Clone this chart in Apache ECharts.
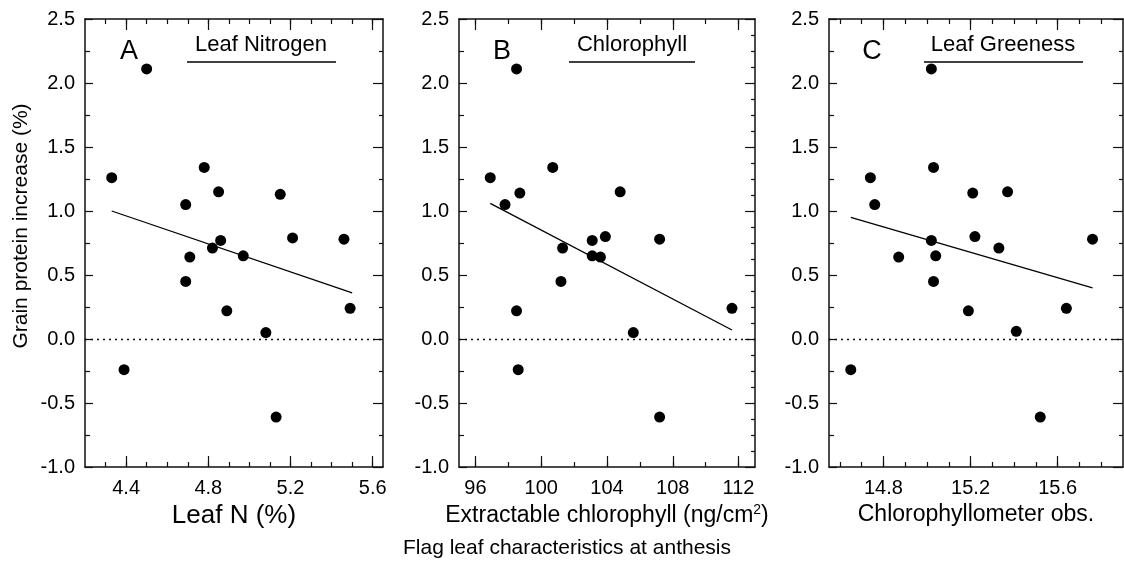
<!DOCTYPE html>
<html>
<head>
<meta charset="UTF-8">
<title>Grain protein increase</title>
<script src="https://cdn.jsdelivr.net/npm/echarts@6/dist/echarts.min.js"></script>
<style>
  html, body { margin: 0; padding: 0; background: #fff; }
  #main { width: 1124px; height: 566px; }
</style>
</head>
<body>
<div id="main"></div>
<script>
// panel A: leaf N (%)
var leafN    = [4.33, 4.50, 4.78, 4.85, 4.69, 5.15, 5.21, 5.46, 4.86, 4.82, 4.97, 4.71, 4.69, 4.89, 5.49, 5.08, 4.39, 5.13];
var proteinA = [1.26, 2.11, 1.34, 1.15, 1.05, 1.13, 0.79, 0.78, 0.77, 0.71, 0.65, 0.64, 0.45, 0.22, 0.24, 0.05, -0.24, -0.61];
var fitAx = [4.33, 5.50];
var fitAy = [1.00, 0.36];

// panel B: extractable chlorophyll (ng/cm2)
var chloro   = [96.9, 98.5, 100.7, 104.8, 97.8, 98.7, 107.2, 103.9, 103.1, 103.1, 103.6, 101.3, 101.2, 98.5, 111.6, 105.6, 98.6, 107.2];
var proteinB = [1.26, 2.11, 1.34, 1.15, 1.05, 1.14, 0.78, 0.80, 0.77, 0.65, 0.64, 0.71, 0.45, 0.22, 0.24, 0.05, -0.24, -0.61];
var fitBx = [96.9, 111.6];
var fitBy = [1.06, 0.07];

// panel C: chlorophyllometer
var meter    = [14.74, 15.02, 15.03, 14.76, 15.21, 15.37, 15.76, 15.22, 15.02, 15.33, 14.87, 15.04, 15.03, 15.19, 15.64, 15.41, 14.65, 15.52];
var proteinC = [1.26, 2.11, 1.34, 1.05, 1.14, 1.15, 0.78, 0.80, 0.77, 0.71, 0.64, 0.65, 0.45, 0.22, 0.24, 0.06, -0.24, -0.61];
var fitCx = [14.65, 15.76];
var fitCy = [0.95, 0.40];

// x ticks / labels
var majorA = [4.4, 4.8, 5.2, 5.6];
var minorA = [4.3, 4.4, 4.5, 4.6, 4.7, 4.8, 4.9, 5.0, 5.1, 5.2, 5.3, 5.4, 5.5, 5.6];
var majorB = [96, 100, 104, 108, 112];
var minorB = [96, 98, 100, 102, 104, 106, 108, 110, 112];
var majorC = [14.8, 15.2, 15.6];
var minorC = [14.6, 14.7, 14.8, 14.9, 15.0, 15.1, 15.2, 15.3, 15.4, 15.5, 15.6, 15.7, 15.8];

var FONT = '"Liberation Sans", Arial, Helvetica, sans-serif';

function pairs(xs, ys) {
    var out = [];
    for (var i = 0; i < xs.length; i++) out.push([xs[i], ys[i]]);
    return out;
}

var panels = [
    { xs: leafN, ys: proteinA, fx: fitAx, fy: fitAy, min: 4.2, max: 5.65, major: majorA, minor: minorA,
      left: 85, width: 298, dec: 1, rightMinor: 2,
      name: 'Leaf N (%)', nameSize: 26, nameGap: 30 },
    { xs: chloro, ys: proteinB, fx: fitBx, fy: fitBy, min: 95, max: 113, major: majorB, minor: minorB,
      left: 459, width: 296, dec: 0, rightMinor: 4,
      name: '{a|Extractable chlorophyll (ng/cm}{s|2}{a|)}', nameSize: 23, nameGap: 34 },
    { xs: meter, ys: proteinC, fx: fitCx, fy: fitCy, min: 14.55, max: 15.9, major: majorC, minor: minorC,
      left: 829, width: 294, dec: 1, rightMinor: 2,
      name: 'Chlorophyllometer obs.', nameSize: 23, nameGap: 31 }
];

var grids = [], xAxes = [], yAxes = [], series = [];
var axisLine = { show: true, onZero: false, lineStyle: { color: '#111', width: 1.5 } };
var tickStyle = { color: '#111', width: 1.2 };

panels.forEach(function (p, i) {
    grids.push({ left: p.left, top: 19, width: p.width, height: 448, containLabel: false });
    var base = { type: 'value', gridIndex: i, min: p.min, max: p.max, splitLine: { show: false } };
    // bottom, minor ticks + labels + name
    xAxes.push(Object.assign({}, base, {
        position: 'bottom',
        axisLine: axisLine,
        axisTick: { show: true, inside: true, length: 5, customValues: p.minor, lineStyle: tickStyle },
        axisLabel: { show: true, customValues: p.major, margin: 11, color: '#000', fontFamily: FONT, fontSize: 20,
            formatter: function (v) { return v.toFixed(p.dec); } },
        name: p.name, nameLocation: 'middle', nameGap: p.nameGap,
        nameTextStyle: { color: '#000', fontFamily: FONT, fontSize: p.nameSize,
            rich: { a: { fontFamily: FONT, fontSize: p.nameSize, color: '#000' },
                    s: { fontFamily: FONT, fontSize: 14, color: '#000', padding: [0, 0, 12, 0] } } }
    }));
    // bottom, major ticks
    xAxes.push(Object.assign({}, base, {
        position: 'bottom', axisLine: { show: false, onZero: false },
        axisTick: { show: true, inside: true, length: 11, customValues: p.major, lineStyle: tickStyle },
        axisLabel: { show: false }
    }));
    // top, minor ticks
    xAxes.push(Object.assign({}, base, {
        position: 'top', axisLine: axisLine,
        axisTick: { show: true, inside: true, length: 5, customValues: p.minor, lineStyle: tickStyle },
        axisLabel: { show: false }
    }));
    // top, major ticks
    xAxes.push(Object.assign({}, base, {
        position: 'top', axisLine: { show: false, onZero: false },
        axisTick: { show: true, inside: true, length: 11, customValues: p.major, lineStyle: tickStyle },
        axisLabel: { show: false }
    }));

    var ybase = { type: 'value', gridIndex: i, min: -1, max: 2.5, interval: 0.5, splitLine: { show: false } };
    yAxes.push(Object.assign({}, ybase, {
        position: 'left', axisLine: axisLine,
        axisTick: { show: true, inside: true, length: 8, lineStyle: tickStyle },
        minorTick: { show: true, splitNumber: 2, length: 5, lineStyle: tickStyle },
        axisLabel: { show: true, margin: 10, color: '#000', fontFamily: FONT, fontSize: 20,
            formatter: function (v) { return v.toFixed(1); } }
    }));
    yAxes.push(Object.assign({}, ybase, {
        position: 'right', axisLine: axisLine,
        axisTick: { show: true, inside: true, length: 10, lineStyle: tickStyle },
        minorTick: { show: true, splitNumber: p.rightMinor, length: 4, lineStyle: tickStyle },
        axisLabel: { show: false }
    }));

    series.push({
        type: 'scatter', xAxisIndex: i * 4, yAxisIndex: i * 2,
        data: pairs(p.xs, p.ys), symbol: 'circle', symbolSize: 11,
        itemStyle: { color: '#000', opacity: 1 },
        markLine: {
            silent: true, symbol: ['none', 'none'], label: { show: false },
            lineStyle: { color: '#111', type: [2, 4], width: 1.4 },
            data: [{ yAxis: 0 }]
        }
    });
    series.push({
        type: 'line', xAxisIndex: i * 4, yAxisIndex: i * 2,
        data: pairs(p.fx, p.fy), showSymbol: false, symbol: 'none',
        lineStyle: { color: '#000', width: 1.3 }
    });
});

function label(txt, x, y, size) {
    return { type: 'text', x: x, y: y,
        style: { text: txt, x: 0, y: 0, fill: '#000', font: size + 'px ' + FONT, align: 'center', verticalAlign: 'middle' } };
}
function underline(x1, x2) {
    return { type: 'line', shape: { x1: x1, y1: 62, x2: x2, y2: 62 }, style: { stroke: '#000', lineWidth: 1.5 } };
}

var graphics = [
    label('A', 129, 52, 27), label('Leaf Nitrogen', 261, 45, 22), underline(187, 336),
    label('B', 502, 52, 27), label('Chlorophyll', 632, 45, 22), underline(569, 695),
    label('C', 872, 52, 27), label('Leaf Greeness', 1003, 45, 22), underline(924, 1083),
    label('Flag leaf characteristics at anthesis', 567, 548, 21),
    { type: 'text', x: 21, y: 226, rotation: Math.PI / 2,
      style: { text: 'Grain protein increase (%)', fill: '#000', font: '21px ' + FONT, align: 'center', verticalAlign: 'middle' } }
];

var chart = echarts.init(document.getElementById('main'));
chart.setOption({
    animation: false,
    backgroundColor: '#fff',
    grid: grids,
    xAxis: xAxes,
    yAxis: yAxes,
    series: series,
    graphic: graphics
});
</script>
</body>
</html>
